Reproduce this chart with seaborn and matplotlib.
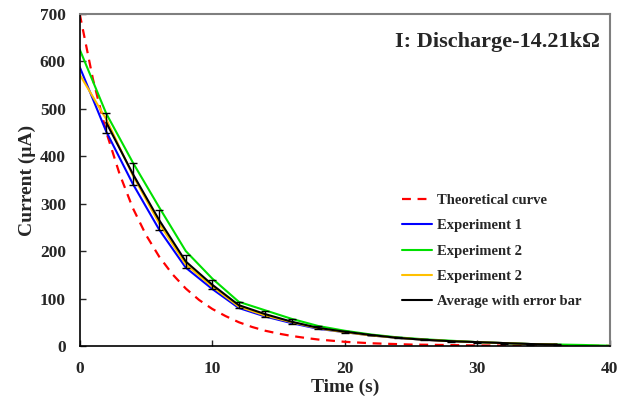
import numpy as np
import pandas as pd
import matplotlib
matplotlib.use("Agg")
import matplotlib.pyplot as plt
import seaborn as sns

# ---- data ----
t_theory = [0, 1, 2, 3, 4, 5, 6, 7, 8, 9, 10, 11, 12, 13, 14, 15, 16, 17, 18, 20, 22, 25, 30, 35, 40]
i_theory = [700, 562, 451, 363, 291, 234, 188, 151, 121, 97, 78, 63, 50, 40, 32, 26, 21, 17, 13.5, 8.7, 5.6, 2.9, 1.0, 0.3, 0.1]

t_exp = [0, 2, 4, 6, 8, 10, 12, 14, 16, 18, 20, 22, 24, 26, 28, 30, 32, 34, 36, 38, 40]
exp1 = [588, 452, 342, 245, 165, 120, 80, 62, 48, 36, 29, 22, 17, 13, 10, 8, 6, 4, 3, None, None]
exp2 = [625, 490, 387, 292, 200, 142, 93, 75, 57, 42, 32, 24, 18, 14, 11, 8, 6, 4, 3, 2, 0.5]
exp3 = [572, 478, 360, 258, 172, 125, 83, 64, 50, 37, 29, 22, 17, 13, 10, 8, 6, 4, 3, None, None]

t_avg = [2, 4, 6, 8, 10, 12, 14, 16, 18, 20, 22, 24, 26, 28, 30, 32, 34, 36]
avg = [471, 363, 265, 178, 129, 86, 67, 51, 38, 30, 23, 17, 13, 10, 8, 6, 4, 3]
err = [21, 23, 21, 14, 10, 6, 7, 5, 3, 2, 1, 1, 1, 1, 1, 1, 1, 1]

labels = ["Theoretical curve", "Experiment 1", "Experiment 2", "Experiment 2 ", "Average with error bar"]
colors = ["#ff0000", "#0000ff", "#00e000", "#ffc000", "#000000"]
title = "I: Discharge-14.21kΩ"

# ---- style ----
sns.set_style("ticks")
plt.rcParams["font.family"] = ["Liberation Serif", "DejaVu Serif"]
plt.rcParams["font.weight"] = "bold"

fig = plt.figure(figsize=(6.23, 3.99), dpi=100)
ax = fig.add_axes([0.128, 0.133, 0.851, 0.832])

df_th = pd.DataFrame({"t": t_theory, "I": i_theory})
sns.lineplot(data=df_th, x="t", y="I", ax=ax, color=colors[0], lw=1.6,
             linestyle=(0, (4, 3)), label=labels[0])

for vals, lab, col in zip([exp1, exp2, exp3], labels[1:4], colors[1:4]):
    d = pd.DataFrame({"t": t_exp, "I": vals}).dropna()
    sns.lineplot(data=d, x="t", y="I", ax=ax, color=col, lw=1.5, label=lab)

df_avg = pd.DataFrame({"t": t_avg, "I": avg, "e": err})
sns.lineplot(data=df_avg, x="t", y="I", ax=ax, color=colors[4], lw=1.5, label=labels[4])
ax.errorbar(df_avg["t"], df_avg["I"], yerr=df_avg["e"], fmt="none",
            ecolor="black", elinewidth=1.0, capsize=3, capthick=1.0)

ax.set_xlim(0, 40)
ax.set_ylim(0, 700)
ax.set_xticks([0, 10, 20, 30, 40])
ax.set_yticks(range(0, 701, 100))
ax.tick_params(direction="in", length=4, width=1, labelsize=12.5)
ax.tick_params(axis="y", pad=10)
ax.tick_params(axis="x", pad=11)
for lbl in ax.get_xticklabels() + ax.get_yticklabels():
    lbl.set_fontweight("bold")

ax.set_xlabel("Time (s)", fontsize=14, fontweight="bold", labelpad=1)
ax.set_ylabel("Current (μA)", fontsize=14, fontweight="bold", labelpad=3)

for s in ["left", "bottom"]:
    ax.spines[s].set_color("black")
    ax.spines[s].set_linewidth(1.2)
for s in ["top", "right"]:
    ax.spines[s].set_visible(True)
    ax.spines[s].set_color("#7f7f7f")
    ax.spines[s].set_linewidth(1.5)

ax.text(0.981, 0.916, title, transform=ax.transAxes, ha="right", va="center",
        fontsize=16, fontweight="bold")

leg = ax.legend(loc="upper left", bbox_to_anchor=(0.596, 0.475), frameon=False,
                prop={"weight": "bold", "size": 10.5}, handlelength=2.1,
                handletextpad=0.3, labelspacing=0.82, borderaxespad=0)

fig.savefig("out.png", dpi=100)
